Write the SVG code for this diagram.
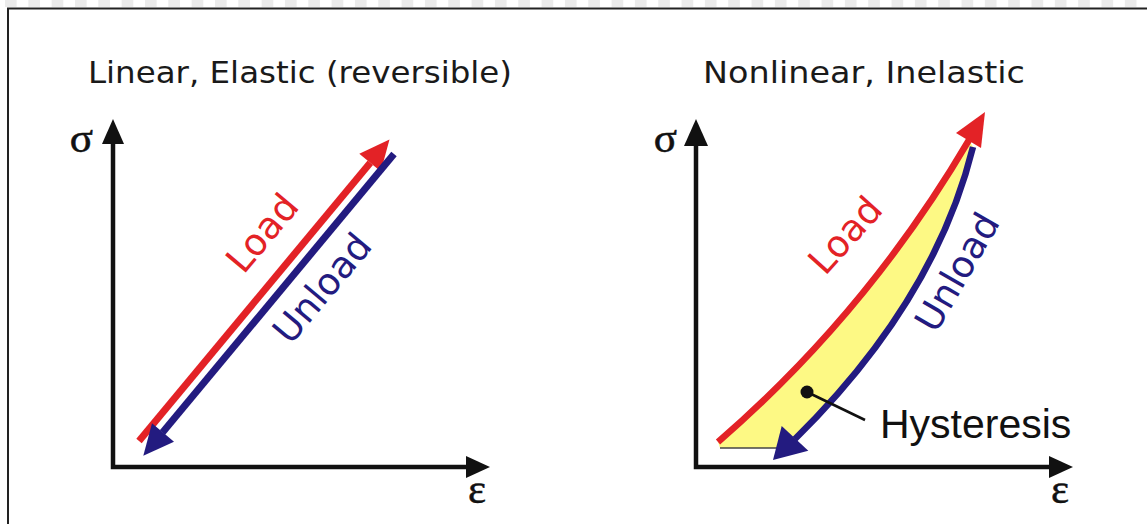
<svg xmlns="http://www.w3.org/2000/svg" width="1147" height="524" viewBox="0 0 1147 524">
  <defs>
    <pattern id="strip" x="5" y="0" width="23.33" height="7" patternUnits="userSpaceOnUse">
      <rect x="0" y="0" width="11.7" height="7" fill="#ebebeb"/>
    </pattern>
  </defs>
  <style>
    .title { font-family: "DejaVu Sans", "Liberation Sans", sans-serif; font-size: 31px; fill: #1a1a1a; }
    .lbl { font-family: "DejaVu Sans", "Liberation Sans", sans-serif; font-size: 37px; text-anchor: middle; }
    .greek { font-family: "Liberation Serif", "DejaVu Serif", serif; font-size: 43px; fill: #111; }
    .axis { stroke: #111; stroke-width: 4.5; fill: none; }
    .ahead { fill: #111; }
    .red { stroke: #e32226; stroke-width: 7; fill: none; }
    .blue { stroke: #231b80; stroke-width: 7; fill: none; }
    .redf { fill: #e32226; }
    .bluef { fill: #231b80; }
  </style>
  <rect x="0" y="0" width="1147" height="524" fill="#ffffff"/>
  <rect x="0" y="0" width="1147" height="7" fill="url(#strip)"/>
  <g id="frame">
    <path d="M 8 524 L 8 8.5 L 1147 8.5" stroke="#222" stroke-width="2" fill="none"/>
  </g>

  <g id="titles">
    <text class="title" x="88" y="83" textLength="424" lengthAdjust="spacingAndGlyphs">Linear, Elastic (reversible)</text>
    <text class="title" x="703" y="83" textLength="322" lengthAdjust="spacingAndGlyphs">Nonlinear, Inelastic</text>
  </g>

  <g id="left-axes">
    <path class="axis" d="M 113 140 L 113 467 L 470 467"/>
    <polygon class="ahead" points="113,119 102,144 124,144"/>
    <polygon class="ahead" points="490,467 466,456 466,478"/>
    <text class="greek" x="93" y="152" text-anchor="end" stroke="#111" stroke-width="0.6">σ</text>
    <text class="greek" x="477" y="503" text-anchor="middle" stroke="#111" stroke-width="0.5">ε</text>
  </g>

  <g id="right-axes">
    <path class="axis" d="M 696 140 L 696 467 L 1052 467"/>
    <polygon class="ahead" points="696,119 684,146 708,146"/>
    <polygon class="ahead" points="1073,467 1049,456 1049,478"/>
    <text class="greek" x="677" y="152" text-anchor="end" stroke="#111" stroke-width="0.6">σ</text>
    <text class="greek" x="1060" y="503" text-anchor="middle" stroke="#111" stroke-width="0.5">ε</text>
  </g>

  <g id="hysteresis-area">
    <path d="M 718 442 Q 868 312 969 140 L 973 147 Q 935 301 795 439 L 780 448 L 720 448 Z" fill="#fdf984"/>
    <path d="M 720 448 L 785 448" stroke="#444" stroke-width="1.5"/>
  </g>

  <g id="connectors">
    <path class="red" d="M 139 441 L 370.3 162.7"/>
    <polygon class="redf" points="389.5,139.6 380.8,171.6 359.3,153.7"/>
    <path class="blue" d="M 394 154 L 162.5 432.6"/>
    <polygon class="bluef" points="143.3,455.7 174,441.8 152,423.3"/>

    <path class="red" style="stroke-width:6.5" d="M 718 442 Q 868 312 969 140"/>
    <polygon class="redf" points="985,112 981,148 956,133"/>
    <path class="blue" style="stroke-width:6.5" d="M 973 147 Q 935 301 795 439"/>
    <polygon class="bluef" points="773,460 781.7,426 808.3,450.7"/>

    <path d="M 807 392 L 865 420" stroke="#111" stroke-width="2.5"/>
    <circle cx="807" cy="392" r="6.5" fill="#111"/>
  </g>

  <g id="labels">
    <text class="lbl" fill="#e32226" transform="translate(262,233) rotate(-50)" y="13">Load</text>
    <text class="lbl" fill="#231b80" transform="translate(322,288) rotate(-50)" y="13">Unload</text>
    <text class="lbl" fill="#e32226" transform="translate(845,235) rotate(-48)" y="13">Load</text>
    <text class="lbl" fill="#231b80" transform="translate(957,272) rotate(-60)" y="13">Unload</text>
    <text x="880" y="438" font-family="Liberation Sans, Arial, sans-serif" font-size="41" fill="#111">Hysteresis</text>
  </g>
</svg>
